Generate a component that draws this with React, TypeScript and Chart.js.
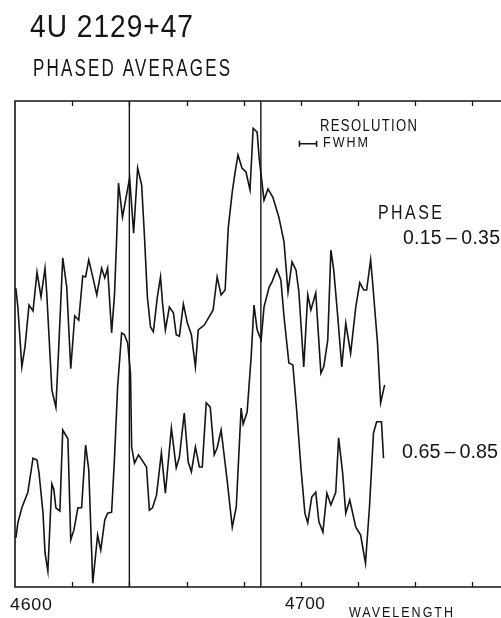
import React, { useEffect, useRef } from "react";
import { Chart, registerables } from "chart.js";

Chart.register(...registerables);

// Phase 0.15-0.35 spectrum (upper)
const upperWave = [
  4600.3, 4601.0, 4602.4, 4603.5, 4604.9, 4606.3, 4607.7, 4609.1, 4610.5, 4611.1,
  4612.9, 4614.3, 4615.3, 4616.7, 4618.1, 4619.5, 4620.9, 4622.3, 4623.7, 4624.7,
  4625.8, 4627.2, 4628.6, 4630.3, 4631.4, 4632.4, 4633.8, 4634.8, 4635.5, 4636.2,
  4637.6, 4640.1, 4641.5, 4642.9, 4644.3, 4645.3, 4646.3, 4647.4, 4648.4, 4649.8,
  4650.9, 4651.6, 4652.6, 4654.0, 4655.4, 4656.4, 4657.5, 4658.9, 4660.3, 4661.7,
  4663.1, 4664.1, 4666.2, 4667.9, 4669.3, 4670.7, 4672.1, 4673.5, 4674.6, 4676.0,
  4677.0, 4678.0, 4679.4, 4680.8, 4682.2, 4683.3, 4684.7, 4685.4, 4687.1, 4688.5,
  4690.2, 4692.3, 4694.1, 4695.5, 4696.9, 4698.3, 4699.3, 4701.0, 4702.4, 4703.5,
  4705.2, 4707.0, 4708.0, 4709.4, 4710.5, 4711.5, 4712.9, 4714.3, 4715.7, 4717.4,
  4719.2, 4720.6, 4722.0, 4723.0, 4724.4, 4725.1, 4726.8, 4727.9, 4729.3,
];
const upperFlux = [
  61.5, 57.6, 45.3, 49.4, 58.0, 56.8, 64.8, 59.7, 65.6, 60.5,
  40.5, 37.0, 49.4, 67.7, 61.7, 44.9, 55.8, 54.9, 64.0, 63.8,
  67.3, 63.8, 60.1, 65.6, 63.6, 65.6, 52.3, 60.1, 70.8, 83.1,
  76.1, 84.2, 72.8, 86.2, 82.7, 72.0, 59.7, 53.5, 52.5, 59.7,
  63.8, 58.4, 52.9, 57.6, 56.4, 51.9, 51.6, 58.2, 54.3, 51.9,
  45.3, 52.9, 53.9, 55.6, 57.0, 63.8, 60.1, 61.1, 73.9, 81.3,
  85.4, 88.9, 86.2, 85.4, 81.7, 94.4, 93.6, 88.3, 79.6, 81.9,
  80.2, 76.1, 71.0, 60.7, 66.9, 65.2, 60.7, 45.3, 60.1, 57.0,
  60.5, 44.0, 45.3, 50.8, 69.3, 65.2, 55.6, 45.3, 54.3, 48.1,
  57.6, 62.6, 61.1, 61.1, 67.3, 62.6, 50.2, 37.9, 41.6,
];

// Phase 0.65-0.85 spectrum (lower)
const lowerWave = [
  4600.3, 4601.0, 4602.4, 4604.5, 4606.3, 4607.7, 4608.4, 4609.8, 4610.5, 4611.5,
  4612.5, 4612.9, 4613.6, 4614.3, 4615.7, 4616.7, 4618.5, 4619.5, 4620.6, 4622.0,
  4623.3, 4624.7, 4625.8, 4627.2, 4628.9, 4630.0, 4631.4, 4632.4, 4633.8, 4634.8,
  4635.9, 4637.3, 4638.3, 4639.4, 4640.4, 4640.8, 4641.8, 4643.2, 4646.0, 4647.0,
  4648.1, 4649.5, 4651.2, 4652.6, 4654.7, 4656.4, 4657.5, 4659.2, 4660.6, 4661.7,
  4663.1, 4664.5, 4665.5, 4666.9, 4668.3, 4669.7, 4670.7, 4672.1, 4674.2, 4676.0,
  4677.4, 4679.1, 4679.8, 4681.2, 4682.6, 4683.6, 4684.7, 4686.1, 4687.1, 4688.9,
  4689.9, 4691.6, 4693.0, 4694.1, 4695.8, 4697.2, 4698.6, 4700.0, 4701.4, 4702.4,
  4703.8, 4705.2, 4706.3, 4707.7, 4709.1, 4710.5, 4712.2, 4713.2, 4714.6, 4715.7,
  4717.1, 4719.2, 4720.9, 4722.6, 4724.0, 4725.4, 4726.5, 4728.2, 4728.9,
];
const lowerFlux = [
  10.1, 13.2, 16.3, 19.5, 26.5, 26.1, 23.5, 15.2, 7.0, 3.3,
  16.5, 21.2, 20.0, 16.3, 15.6, 32.3, 30.5, 9.7, 11.7, 16.3,
  16.3, 29.2, 24.1, 0.8, 10.7, 7.6, 13.8, 15.2, 15.4, 26.5,
  41.2, 52.3, 51.9, 50.2, 44.0, 28.8, 25.5, 27.2, 24.7, 15.8,
  16.3, 18.9, 27.6, 19.3, 32.7, 24.5, 26.7, 35.8, 25.7, 23.7,
  28.8, 24.7, 24.7, 37.9, 37.0, 27.2, 28.6, 32.3, 22.0, 12.3,
  16.5, 36.8, 33.5, 36.0, 47.3, 58.0, 52.9, 50.8, 57.6, 61.7,
  62.8, 65.4, 63.2, 55.6, 46.1, 45.7, 35.8, 24.7, 15.2, 13.2,
  18.5, 19.5, 13.4, 11.3, 19.3, 16.9, 19.5, 30.7, 23.5, 15.2,
  17.9, 12.3, 10.7, 4.9, 16.5, 31.7, 34.0, 34.0, 26.5,
];

// Reference wavelengths (N III / C III 4640 and He II 4686)
const markerWaves = [4640, 4686];

// Axis ticks
const xTicks = [4600, 4620, 4640, 4660, 4680, 4700, 4720, 4740, 4760];
const xTickLabels = ["4600", "", "", "", "", "4700", "", "", ""];

// Resolution (FWHM) bar, in wavelength and flux units
const resolutionBar = [4699.5, 4705.5];
const resolutionLevel = 91.2;

const INK = "#141414";
const FONT = "'Liberation Sans', Arial, sans-serif";

// Draw text with a given cap height, fitted to a given width using a
// glyph width factor plus letter spacing (drafting lettering look).
function fitText(
  ctx: CanvasRenderingContext2D,
  text: string,
  left: number,
  baseline: number,
  cap: number,
  width: number,
  squeeze = 0.82
) {
  const size = cap / 0.72;
  ctx.save();
  ctx.font = `${size}px ${FONT}`;
  (ctx as any).letterSpacing = "0px";
  const m = ctx.measureText(text).width;
  const n = Array.from(text).length;
  let sx = squeeze;
  let spacing = 0;
  const extra = width - m * squeeze;
  if (extra > 0 && n > 1) {
    spacing = extra / squeeze / (n - 1);
  } else {
    sx = width / m;
  }
  (ctx as any).letterSpacing = `${spacing}px`;
  ctx.translate(left, baseline);
  ctx.scale(sx, 1);
  ctx.textAlign = "left";
  ctx.textBaseline = "alphabetic";
  ctx.fillText(text, 0, 0);
  ctx.restore();
}

const framePlugin = {
  id: "frameAndText",
  afterDatasetsDraw(chart: any) {
    const { ctx, chartArea, scales } = chart;
    const { left, right, top, bottom } = chartArea;
    const x = scales.x;
    const y = scales.y;
    ctx.save();
    ctx.strokeStyle = INK;
    ctx.fillStyle = INK;
    ctx.lineWidth = 1.6;
    ctx.lineCap = "butt";
    // frame
    ctx.beginPath();
    ctx.moveTo(right, top);
    ctx.lineTo(left, top);
    ctx.lineTo(left, bottom);
    ctx.lineTo(right, bottom);
    ctx.stroke();
    // inward ticks
    ctx.lineWidth = 1.3;
    ctx.beginPath();
    xTicks.forEach((v) => {
      if (v <= x.min) return;
      const px = Math.round(x.getPixelForValue(v)) + 0.5;
      ctx.moveTo(px, top);
      ctx.lineTo(px, top + 5);
      ctx.moveTo(px, bottom);
      ctx.lineTo(px, bottom - 5);
    });
    ctx.stroke();
    // tick labels
    xTicks.forEach((v, i) => {
      const lab = xTickLabels[i];
      if (!lab) return;
      const px = x.getPixelForValue(v);
      if (v === x.min) fitText(ctx, lab, px - 5, bottom + 23, 11.5, 42, 1.12);
      else fitText(ctx, lab, px - 16, bottom + 22, 11.5, 40, 1.08);
    });
    fitText(ctx, "WAVELENGTH", 349, bottom + 30, 11, 104);

    // resolution bar
    const rx0 = x.getPixelForValue(resolutionBar[0]);
    const rx1 = x.getPixelForValue(resolutionBar[1]);
    const ry = y.getPixelForValue(resolutionLevel);
    ctx.lineWidth = 1.6;
    ctx.beginPath();
    ctx.moveTo(rx0, ry);
    ctx.lineTo(rx1, ry);
    ctx.moveTo(rx0, ry - 3);
    ctx.lineTo(rx0, ry + 3);
    ctx.moveTo(rx1, ry - 3);
    ctx.lineTo(rx1, ry + 3);
    ctx.stroke();

    // annotations
    fitText(ctx, "4U 2129+47", 30, 37, 22, 163, 0.92);
    fitText(ctx, "PHASED AVERAGES", 33, 76, 17, 197, 0.72);
    fitText(ctx, "RESOLUTION", 320, 131, 11.5, 97);
    fitText(ctx, "FWHM", 323, 147, 11, 45);
    fitText(ctx, "PHASE", 378, 219, 14, 64);
    fitText(ctx, "0.15\u2009\u2013\u20090.35", 403, 244, 14, 97, 1.0);
    fitText(ctx, "0.65\u2009\u2013\u20090.85", 402, 458, 15, 96, 1.0);
    ctx.restore();
  },
};

export default function App() {
  const ref = useRef<HTMLCanvasElement | null>(null);

  useEffect(() => {
    document.body.style.margin = "0";
    const canvas = ref.current;
    if (!canvas) return;
    const toPts = (w: number[], f: number[]) => w.map((v, i) => ({ x: v, y: f[i] }));
    const lineStyle = {
      borderColor: INK,
      borderWidth: 1.6,
      pointRadius: 0,
      tension: 0,
      fill: false,
    };
    const chart = new Chart(canvas, {
      type: "line",
      data: {
        datasets: [
          { label: "0.15-0.35", data: toPts(upperWave, upperFlux), ...lineStyle },
          { label: "0.65-0.85", data: toPts(lowerWave, lowerFlux), ...lineStyle },
          ...markerWaves.map((w) => ({
            label: String(w),
            data: [
              { x: w, y: 0 },
              { x: w, y: 100 },
            ],
            ...lineStyle,
            borderWidth: 1.4,
          })),
        ],
      },
      options: {
        animation: false,
        responsive: false,
        devicePixelRatio: 1,
        layout: { padding: { left: 15, top: 101, right: 0, bottom: 31 } },
        plugins: { legend: { display: false }, tooltip: { enabled: false } },
        scales: {
          x: { type: "linear", min: 4600, max: 4770, display: false },
          y: { type: "linear", min: 0, max: 100, display: false },
        },
      },
      plugins: [framePlugin],
    } as any);
    return () => chart.destroy();
  }, []);

  return (
    <div style={{ position: "absolute", left: 0, top: 0, width: 501, height: 618, background: "#fff" }}>
      <canvas ref={ref} width={501} height={618} style={{ display: "block", width: 501, height: 618 }} />
    </div>
  );
}
